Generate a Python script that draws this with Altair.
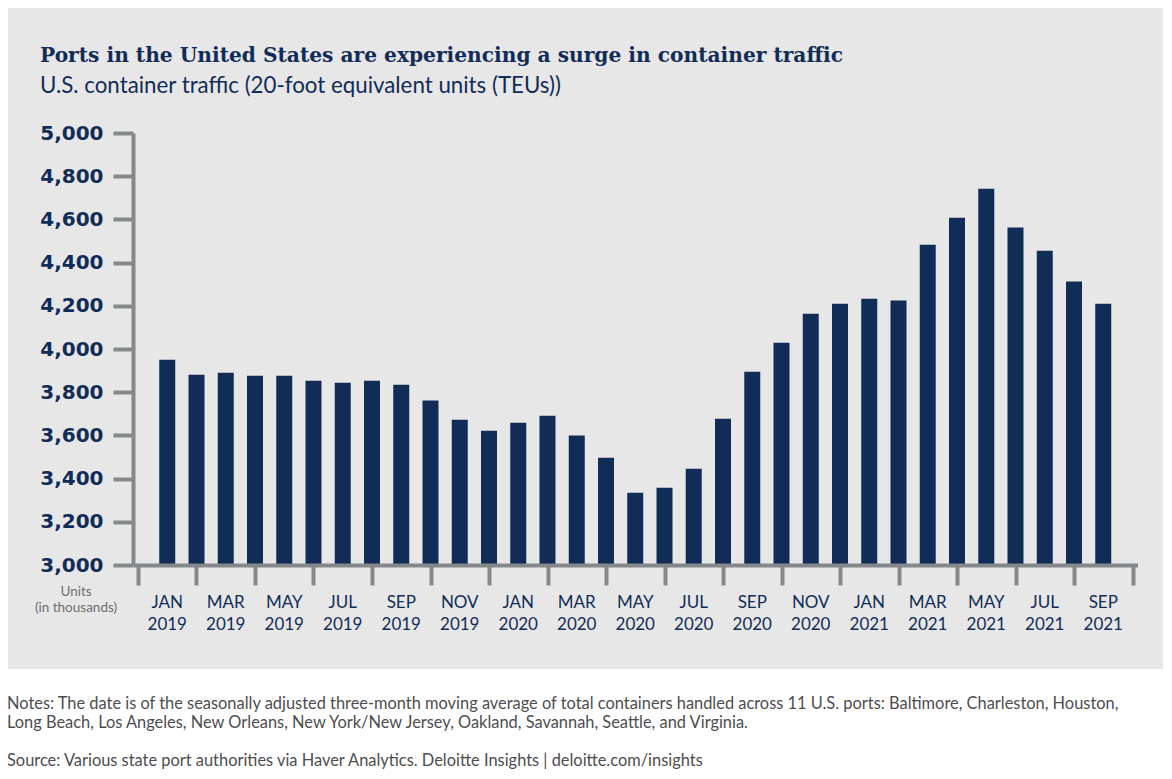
import altair as alt
import pandas as pd

# ---------------- data ----------------
month_names = ["JAN", "FEB", "MAR", "APR", "MAY", "JUN", "JUL", "AUG", "SEP", "OCT", "NOV", "DEC"]
years = [2019] * 12 + [2020] * 12 + [2021] * 9
month_of_period = month_names * 2 + month_names[:9]
teu_thousands = [3950, 3881, 3890, 3876, 3876, 3853, 3844, 3853, 3835, 3761, 3673, 3622,
                 3659, 3691, 3599, 3497, 3335, 3358, 3446, 3677, 3895, 4029, 4163, 4210,
                 4233, 4224, 4483, 4608, 4742, 4562, 4455, 4312, 4210]
y_ticks = [3000, 3200, 3400, 3600, 3800, 4000, 4200, 4400, 4600, 4800, 5000]
x_ticks = list(range(-1, 34, 2))  # even-month centres, Dec 2018 .. Oct 2021

title_text = "Ports in the United States are experiencing a surge in container traffic"
subtitle_text = "U.S. container traffic (20-foot equivalent units (TEUs))"
units_text = "Units\n(in thousands)"
notes_line1 = ("Notes: The date is of the seasonally adjusted three-month moving average of total containers "
               "handled across 11 U.S. ports: Baltimore, Charleston, Houston,")
notes_line2 = "Long Beach, Los Angeles, New Orleans, New York/New Jersey, Oakland, Savannah, Seattle, and Virginia."
source_text = "Source: Various state port authorities via Haver Analytics. Deloitte Insights | deloitte.com/insights"

df = pd.DataFrame({
    "idx": list(range(len(teu_thousands))),
    "month": month_of_period,
    "year": years,
    "value": teu_thousands,
})
df["label"] = df["month"] + "\n" + df["year"].astype(str)
df_labels = df[df["idx"] % 2 == 0]
one = pd.DataFrame({"a": [0]})

# ---------------- style ----------------
NAVY = "#122c58"
GRAY = "#85888a"
BG = "#e7e7e7"
W, H = 1004.5, 432

xs = alt.Scale(domain=[-1, 33], nice=False, zero=False)
ys = alt.Scale(domain=[3000, 5000], nice=False, zero=False)

panel = alt.Chart(one).mark_rect(color=BG).encode(
    x=alt.value(-125), x2=alt.value(1030), y=alt.value(-125), y2=alt.value(536)
)

bars = alt.Chart(df).mark_bar(width=16, color=NAVY).encode(
    x=alt.X("idx:Q", scale=xs,
            axis=alt.Axis(values=x_ticks, labels=False, title=None, grid=False,
                          tickSize=20, tickWidth=4, tickColor=GRAY,
                          domainColor=GRAY, domainWidth=4, zindex=1)),
    y=alt.Y("value:Q", scale=ys,
            axis=alt.Axis(values=y_ticks, format=",.0f", title=None, grid=False,
                          labelFont="DejaVu Sans", labelFontWeight="bold", labelFontSize=20,
                          labelColor=NAVY, labelPadding=10,
                          tickSize=20, tickWidth=4, tickColor=GRAY,
                          domainColor=GRAY, domainWidth=4, zindex=1)),
    y2=alt.datum(3000),
)

xlabels = alt.Chart(df_labels).mark_text(
    font="Lato", fontSize=17, color=NAVY, align="center", baseline="alphabetic",
    lineBreak="\n", lineHeight=22
).encode(x=alt.X("idx:Q", scale=xs), y=alt.value(474.7), text="label:N")

units = alt.Chart(one).mark_text(
    text=units_text, font="Lato", fontSize=13.5, color="#6d6e70", align="center",
    baseline="alphabetic", lineBreak="\n", lineHeight=16
).encode(x=alt.value(-57), y=alt.value(462.5))

title = alt.Chart(one).mark_text(
    text=title_text, font="DejaVu Serif", fontWeight="bold", fontSize=20.2, color=NAVY,
    align="left", baseline="alphabetic"
).encode(x=alt.value(-93), y=alt.value(-71))

subtitle = alt.Chart(one).mark_text(
    text=subtitle_text, font="Lato", fontSize=22.3, color=NAVY, align="left", baseline="alphabetic"
).encode(x=alt.value(-93), y=alt.value(-40))

note_style = dict(font="Lato", fontSize=16.4, color="#4d4d4f", align="left", baseline="alphabetic")
n1 = alt.Chart(one).mark_text(text=notes_line1, **note_style).encode(x=alt.value(-126), y=alt.value(576))
n2 = alt.Chart(one).mark_text(text=notes_line2, **note_style).encode(x=alt.value(-126), y=alt.value(594.5))
n3 = alt.Chart(one).mark_text(text=source_text, **note_style).encode(x=alt.value(-126), y=alt.value(633))

chart = alt.layer(panel, bars, xlabels, units, title, subtitle, n1, n2, n3).properties(
    width=W, height=H,
    autosize=alt.AutoSizeParams(type="none"),
    padding={"left": 125, "top": 125, "right": 26, "bottom": 210},
    background="white",
).configure_view(strokeWidth=0)

chart.save("out.html", embed_options={"renderer": "svg", "actions": False})
